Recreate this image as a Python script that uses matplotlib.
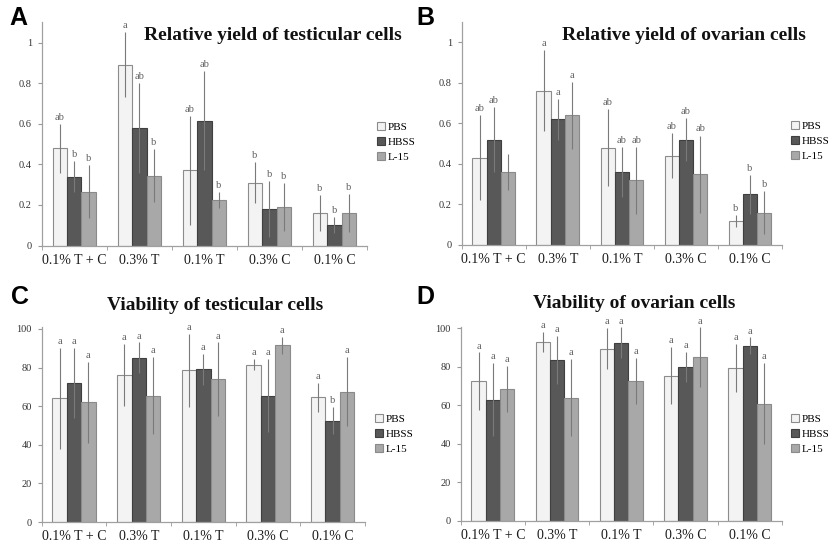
import matplotlib.pyplot as plt
import numpy as np

# Categories and series
groups = ["0.1% T + C", "0.3% T", "0.1% T", "0.3% C", "0.1% C"]
media = ["PBS", "HBSS", "L-15"]

# A - relative yield, testicular cells
yield_testes = [[0.48, 0.89, 0.37, 0.31, 0.16],
                [0.34, 0.58, 0.615, 0.18, 0.10],
                [0.265, 0.345, 0.225, 0.19, 0.16]]
yield_testes_err = [[0.12, 0.16, 0.27, 0.10, 0.09],
                    [0.075, 0.22, 0.245, 0.14, 0.04],
                    [0.13, 0.13, 0.04, 0.12, 0.095]]
yield_testes_sig = [["ab", "a", "ab", "b", "b"],
                    ["b", "ab", "ab", "b", "b"],
                    ["b", "b", "b", "b", "b"]]

# B - relative yield, ovarian cells
yield_ovary = [[0.43, 0.76, 0.48, 0.44, 0.12],
               [0.52, 0.62, 0.36, 0.52, 0.25],
               [0.36, 0.64, 0.32, 0.35, 0.16]]
yield_ovary_err = [[0.21, 0.20, 0.19, 0.11, 0.03],
                   [0.16, 0.10, 0.125, 0.105, 0.095],
                   [0.09, 0.165, 0.165, 0.19, 0.105]]
yield_ovary_sig = [["ab", "a", "ab", "ab", "b"],
                   ["ab", "a", "ab", "ab", "b"],
                   ["", "a", "ab", "ab", "b"]]

# C - viability, testicular cells
viab_testes = [[64, 76, 78.5, 81.5, 64.5],
               [72, 85, 79, 65.5, 52.5],
               [62, 65.5, 74, 91.5, 67.5]]
viab_testes_err = [[26, 16, 19, 3, 7.5],
                   [18, 8, 8, 19, 7],
                   [21, 20, 19, 4.5, 18]]
viab_testes_sig = [["a", "a", "a", "a", "a"],
                   ["a", "a", "a", "a", "b"],
                   ["a", "a", "a", "a", "a"]]

# D - viability, ovarian cells
viab_ovary = [[72.5, 93, 89.5, 75.5, 79.5],
              [63, 83.5, 92.5, 80, 91],
              [68.5, 64, 72.5, 85, 61]]
viab_ovary_err = [[15, 5, 10.5, 15, 12.5],
                  [19, 12.5, 8, 8, 4.3],
                  [12, 20, 12, 15.5, 21]]
viab_ovary_sig = [["a", "a", "a", "a", "a"],
                  ["a", "a", "a", "a", "a"],
                  ["a", "a", "a", "a", "a"]]

colors = ["#f3f3f3", "#585858", "#a8a8a8"]
edges = ["#8c8c8c", "#3f3f3f", "#8a8a8a"]
serif = "Liberation Serif"

fig = plt.figure(figsize=(8.29, 5.45), dpi=100)
W, H = 829, 545


def axes_px(x0, x1, ybot, ytop):
    return fig.add_axes([x0 / W, 1 - ybot / H, (x1 - x0) / W, (ybot - ytop) / H])


def panel(ax, vals, errs, sigs, ymax, yticks, ticklabels, off):
    x = np.arange(len(groups))
    w = 0.222
    for i in range(3):
        pos = x + (i - 1) * w
        ax.bar(pos, vals[i], w, color=colors[i], edgecolor=edges[i], linewidth=0.8,
               label=media[i], zorder=2)
        ax.errorbar(pos, vals[i], yerr=errs[i], fmt="none", ecolor="#7a7a7a",
                    elinewidth=0.8, capsize=0, zorder=3)
        for p, v, e, s in zip(pos, vals[i], errs[i], sigs[i]):
            ax.text(p, v + e + off, s, ha="center", va="bottom", fontsize=7.5,
                    family=serif, color="#606060")
    ax.set_xlim(-0.5, len(groups) - 0.5)
    ax.set_ylim(0, ymax)
    ax.set_yticks(yticks)
    ax.set_yticklabels(ticklabels, family=serif, fontsize=7.5, color="#333333")
    ax.set_xticks(x)
    ax.set_xticklabels(groups, family=serif, fontsize=10, color="#1a1a1a")
    ax.set_xticks(np.arange(len(groups) + 1) - 0.5, minor=True)
    ax.tick_params(axis="x", which="major", length=0, pad=6)
    ax.tick_params(axis="x", which="minor", length=3, color="#999999")
    ax.tick_params(axis="y", length=3, color="#999999", pad=4)
    for s in ["top", "right"]:
        ax.spines[s].set_visible(False)
    for s in ["left", "bottom"]:
        ax.spines[s].set_color("#a0a0a0")
        ax.spines[s].set_linewidth(0.9)
    leg = ax.legend(loc="upper left", bbox_to_anchor=(1.0, 0.0), frameon=False,
                    prop={"family": serif, "size": 8}, handlelength=0.7,
                    handleheight=0.7, handletextpad=0.2, labelspacing=0.45,
                    borderaxespad=0)
    return leg


yt1 = [0, 0.2, 0.4, 0.6, 0.8, 1]
yl1 = ["0", "0.2", "0.4", "0.6", "0.8", "1"]
yt2 = [0, 20, 40, 60, 80, 100]
yl2 = [str(v) for v in yt2]

axA = axes_px(41.7, 367, 245.6, 22.3)
legA = panel(axA, yield_testes, yield_testes_err, yield_testes_sig, 1.1, yt1, yl1, 0.01)
legA.set_bbox_to_anchor((373 / W, 1 - 118 / H), transform=fig.transFigure)

axB = axes_px(461.7, 782, 245, 22)
legB = panel(axB, yield_ovary, yield_ovary_err, yield_ovary_sig, 1.1, yt1, yl1, 0.01)
legB.set_bbox_to_anchor((787 / W, 1 - 117 / H), transform=fig.transFigure)

axC = axes_px(41.7, 365, 522, 327)
legC = panel(axC, viab_testes, viab_testes_err, viab_testes_sig, 101, yt2, yl2, 1)
legC.set_bbox_to_anchor((371 / W, 1 - 410 / H), transform=fig.transFigure)

axD = axes_px(460.7, 782, 521, 326.5)
legD = panel(axD, viab_ovary, viab_ovary_err, viab_ovary_sig, 101, yt2, yl2, 1)
legD.set_bbox_to_anchor((787 / W, 1 - 410 / H), transform=fig.transFigure)

# Titles
title_kw = dict(family=serif, fontsize=14, fontweight="bold", color="#111111",
                va="center", ha="center")
fig.text(273 / W, 1 - 35 / H, "Relative yield of testicular cells", **title_kw)
fig.text(684 / W, 1 - 35 / H, "Relative yield of ovarian cells", **title_kw)
fig.text(215 / W, 1 - 306 / H, "Viability of testicular cells", **title_kw)
fig.text(634 / W, 1 - 304 / H, "Viability of ovarian cells", **title_kw)

# Panel letters
let_kw = dict(family="Liberation Sans", fontsize=18, fontweight="bold",
              va="center", ha="center")
fig.text(18 / W, 1 - 18 / H, "A", **let_kw)
fig.text(425 / W, 1 - 18 / H, "B", **let_kw)
fig.text(20 / W, 1 - 297 / H, "C", **let_kw)
fig.text(425 / W, 1 - 297 / H, "D", **let_kw)

fig.savefig("out.png", dpi=100)
